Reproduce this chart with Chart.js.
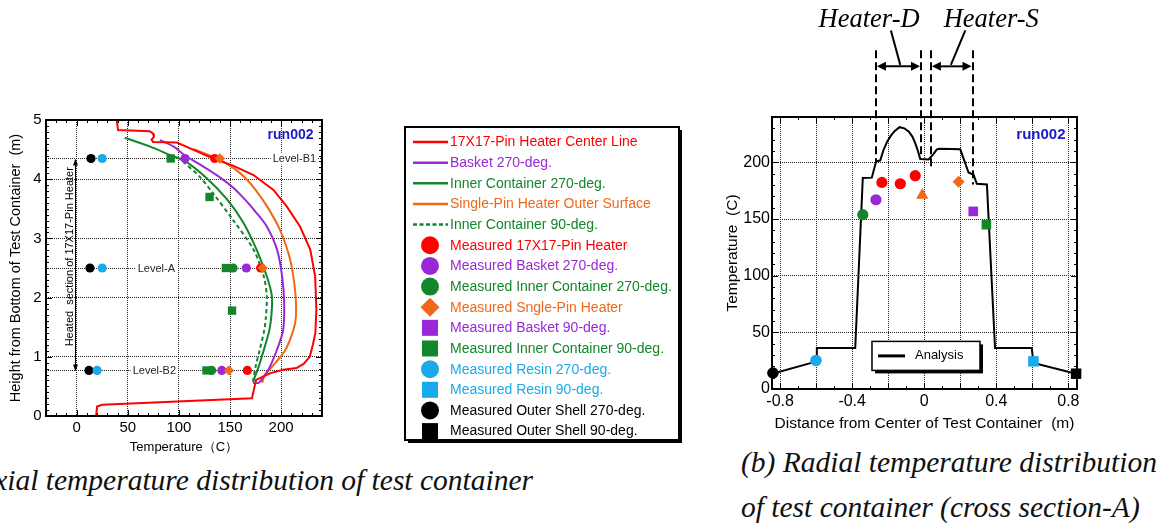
<!DOCTYPE html>
<html>
<head>
<meta charset="utf-8">
<script src="https://cdn.jsdelivr.net/npm/chart.js@4.4.1/dist/chart.umd.min.js"></script>
<style>
  html, body { margin: 0; padding: 0; background: #fff; width: 1163px; height: 527px; overflow: hidden; position: relative; }
  canvas { position: absolute; left: 0; top: 0; }
  #axialWrap { position: absolute; left: 0; top: 0; width: 700px; height: 460px; }
  #radialWrap { position: absolute; left: 700px; top: 0; width: 463px; height: 440px; }
  .cap { position: absolute; font-family: "Liberation Serif", "Times New Roman", serif; font-style: italic;
         font-size: 29.5px; line-height: 36px; color: #111; white-space: nowrap; }
  #capA { right: 630px; top: 462px; text-align: right; }
  #capB1 { left: 741px; top: 444px; }
  #capB2 { left: 741px; top: 489px; }
</style>
</head>
<body>
<div id="axialWrap"><canvas id="axial" width="700" height="460"></canvas></div>
<div id="radialWrap"><canvas id="radial" width="463" height="440"></canvas></div>
<div class="cap" id="capA">(a) Axial temperature distribution of test container</div>
<div class="cap" id="capB1">(b) Radial temperature distribution</div>
<div class="cap" id="capB2">of test container (cross section-A)</div>

<script>
// ---------------- Axial distribution: temperature (C) vs height (m) ----------------
const axialTempTicks = [0, 50, 100, 150, 200];
const axialHeightTicks = [0, 1, 2, 3, 4, 5];
const levelNames = ['Level-B1', 'Level-A', 'Level-B2'];
const levelHeights = [4.35, 2.5, 0.77];
const levelLabelTemp = [213, 78, 76];

// computed profiles
const pinLineT = [39, 40.5, 71.5, 74.8, 75.5, 73.2, 74.8, 98, 111, 127, 143, 153, 173, 192.5, 205.5, 218.5, 228.5, 233.3, 234.5, 233.5, 231, 228, 222, 215, 202, 189, 175.5, 171.5, 25, 20, 19];
const pinLineH = [5.02, 4.83, 4.81, 4.77, 4.71, 4.67, 4.63, 4.62, 4.52, 4.40, 4.29, 4.23, 4.07, 3.82, 3.54, 3.20, 2.81, 2.36, 1.79, 1.40, 1.20, 1.00, 0.88, 0.81, 0.78, 0.72, 0.61, 0.30, 0.19, 0.16, 0];
const basket270T = [81.5, 95, 106, 120.5, 137, 153, 165, 175, 186, 196, 201, 203, 202, 197, 189, 182, 178, 172.5];
const basket270H = [4.66, 4.55, 4.40, 4.25, 4.07, 3.86, 3.65, 3.45, 3.20, 2.81, 2.36, 1.90, 1.45, 1.17, 0.83, 0.64, 0.56, 0.56];
const inner270T = [47, 72, 91, 107.5, 127, 146.5, 163, 176, 186, 191, 190.5, 188.5, 183, 178, 172.5];
const inner270H = [4.70, 4.55, 4.41, 4.29, 4.02, 3.67, 3.27, 2.81, 2.36, 2.02, 1.70, 1.45, 1.11, 0.83, 0.58];
const singlePinT = [114, 130, 140, 147, 155, 165, 175, 187, 199, 209, 214, 214.5, 212, 204, 194, 183.5, 181.5];
const singlePinH = [4.51, 4.40, 4.33, 4.26, 4.17, 4.02, 3.82, 3.52, 3.14, 2.63, 2.07, 1.68, 1.45, 1.11, 0.89, 0.67, 0.56];
const inner90T = [104, 120.5, 133.5, 153, 173, 183, 186, 185, 183.5, 179, 175, 172.5];
const inner90H = [4.30, 4.04, 3.76, 3.31, 2.81, 2.36, 2.02, 1.65, 1.45, 1.11, 0.83, 0.58];

// measured values at Level-B1, Level-A, Level-B2
const pinMeasT = [135, 180, 167];
const basket270MeasT = [106, 166, 142];
const inner270MeasT = [153, 132];
const inner270MeasH = [2.5, 0.77];
const singlePinMeasT = [140, 182, 149];
const inner90MeasT = [92, 130, 146, 152, 127];
const inner90MeasH = [4.35, 3.7, 2.5, 1.78, 0.77];
const resin270MeasT = [25, 25, 20];
const shell270MeasT = [14, 13, 12];

// ---------------- Radial distribution at cross section-A ----------------
const radialGridR = [-0.8, -0.6, -0.4, -0.2, 0, 0.2, 0.4, 0.6, 0.8];
const radialTickText = ['-0.8', '', '-0.4', '', '0', '', '0.4', '', '0.8'];
const radialTempTicks = [0, 50, 100, 150, 200];
const analysisR = [-0.843, -0.596, -0.596, -0.383, -0.341, -0.291, -0.267, -0.244, -0.226, -0.205, -0.185, -0.165, -0.137, -0.11, -0.085, -0.065, -0.05, -0.035, -0.022, 0.024, 0.05, 0.07, 0.085, 0.2, 0.246, 0.274, 0.292, 0.348, 0.393, 0.597, 0.606, 0.843];
const analysisT = [13.5, 24.4, 36.2, 36.2, 186.2, 186.5, 200.8, 201.7, 211, 218.5, 223.5, 227.5, 231, 230, 227, 222.5, 217, 210, 203, 202.5, 207, 211.5, 212, 211.5, 191, 189, 181, 180.5, 36.2, 36.2, 23, 13.5];
const radPinR = [-0.235, -0.133, -0.05];
const radPinT = [182.3, 181.1, 188.2];
const radBasket270 = [-0.268, 167];
const radInner270 = [-0.341, 153.8];
const radSinglePinCenter = [-0.011, 171.1];
const radSinglePin = [0.191, 182.9];
const radBasket90 = [0.272, 156.7];
const radInner90 = [0.345, 145];
const radResin270 = [-0.601, 25.2];
const radResin90 = [0.606, 24.4];
const radShell270 = [-0.84, 14.1];
const radShell90 = [0.843, 13.5];

const heaterNames = ['Heater-D', 'Heater-S'];
const heaterSpanR = [[-0.268, -0.018], [0.037, 0.268]];
const heaterGuideLowT = [[200.5, 202.5], [196, 180.5]];
const heaterLabelR = [-0.306, 0.372];

// ---------------- styling ----------------
const FONT = '"Liberation Sans", Arial, Helvetica, sans-serif';
const SERIF = '"Liberation Serif", "Times New Roman", serif';
const RED = '#ff0000', PURPLE = '#9a28d6', GREEN = '#13862b', ORANGE = '#f06818', CYAN = '#1aa9ea', BLACK = '#000000', BLUE = '#1a1acd';
Chart.defaults.font.family = FONT;
Chart.defaults.color = '#000';

const pts = (xs, ys) => xs.map((x, i) => ({ x, y: ys[i] }));
const pt = p => [{ x: p[0], y: p[1] }];

function curve(label, xs, ys, color, dash, tension) {
  return { label, data: pts(xs, ys), showLine: true, borderColor: color, backgroundColor: color,
           borderWidth: 2, borderDash: dash, pointRadius: 0, tension, order: 3 };
}
function marks(label, data, color, style, radius, order) {
  return { label, data, showLine: false, pointStyle: style, pointRadius: radius, pointBorderWidth: 0,
           pointBackgroundColor: color, pointBorderColor: color, borderColor: color, backgroundColor: color,
           order, clip: false };
}

function drawMark(ctx, style, x, y, size, color) {
  ctx.fillStyle = color;
  ctx.beginPath();
  if (style === 'rect') ctx.rect(x - size, y - size, 2 * size, 2 * size);
  else if (style === 'rectRot') { ctx.moveTo(x, y - size); ctx.lineTo(x + size, y); ctx.lineTo(x, y + size); ctx.lineTo(x - size, y); ctx.closePath(); }
  else ctx.arc(x, y, size, 0, Math.PI * 2);
  ctx.fill();
}

function arrowHead(ctx, x, y, dx, dy, len, half) {
  ctx.beginPath();
  ctx.moveTo(x, y);
  ctx.lineTo(x - dx * len - dy * half, y - dy * len + dx * half);
  ctx.lineTo(x - dx * len + dy * half, y - dy * len - dx * half);
  ctx.closePath();
  ctx.fill();
}

// frame of the plot area with tick marks pointing inward on all four sides
function drawFrame(chart, o) {
  const ctx = chart.ctx, { left, right, top, bottom } = chart.chartArea;
  const xs = chart.scales.x, ys = chart.scales.y;
  const isMajor = (v, m) => Math.abs(v / m - Math.round(v / m)) < 1e-6;
  ctx.save();
  ctx.strokeStyle = '#000';
  ctx.lineWidth = 1;
  ctx.beginPath();
  for (let n = Math.ceil(xs.min / o.xStep - 1e-9); n <= Math.floor(xs.max / o.xStep + 1e-9); n++) {
    const v = n * o.xStep, px = Math.round(xs.getPixelForValue(v)) + 0.5, len = isMajor(v, o.xMajor) ? 6 : 3;
    ctx.moveTo(px, bottom); ctx.lineTo(px, bottom - len);
    ctx.moveTo(px, top); ctx.lineTo(px, top + len);
  }
  for (let n = Math.ceil(ys.min / o.yStep - 1e-9); n <= Math.floor(ys.max / o.yStep + 1e-9); n++) {
    const v = n * o.yStep, py = Math.round(ys.getPixelForValue(v)) + 0.5, len = isMajor(v, o.yMajor) ? 6 : 3;
    ctx.moveTo(left, py); ctx.lineTo(left + len, py);
    ctx.moveTo(right, py); ctx.lineTo(right - len, py);
  }
  ctx.stroke();
  ctx.lineWidth = 2;
  ctx.strokeRect(left, top, right - left, bottom - top);
  // run label
  ctx.fillStyle = BLUE;
  ctx.font = 'bold ' + o.runSize + 'px ' + FONT;
  ctx.textAlign = 'right';
  ctx.textBaseline = 'middle';
  ctx.fillText('run002', right - o.runInsetX, top + o.runInsetY);
  ctx.restore();
}

// ---------------- axial chart overlays ----------------
const axialOverlay = {
  id: 'axialOverlay',
  beforeDatasetsDraw(chart) {
    const ctx = chart.ctx, xs = chart.scales.x, ys = chart.scales.y, { left, right } = chart.chartArea;
    ctx.save();
    // measurement levels
    ctx.strokeStyle = '#222';
    ctx.lineWidth = 1;
    ctx.setLineDash([1, 1]);
    levelHeights.forEach(h => {
      const py = Math.round(ys.getPixelForValue(h)) + 0.5;
      ctx.beginPath(); ctx.moveTo(left, py); ctx.lineTo(right, py); ctx.stroke();
    });
    ctx.setLineDash([]);
    ctx.font = '11px ' + FONT;
    ctx.textAlign = 'center';
    ctx.textBaseline = 'middle';
    levelNames.forEach((name, i) => {
      const px = xs.getPixelForValue(levelLabelTemp[i]), py = ys.getPixelForValue(levelHeights[i]);
      const w = ctx.measureText(name).width + 4;
      ctx.fillStyle = '#fff';
      ctx.fillRect(px - w / 2, py - 6, w, 12);
      ctx.fillStyle = '#222';
      ctx.fillText(name, px, py + 0.5);
    });
    // heated section span
    const ax = Math.round(xs.getPixelForValue(-2)) + 0.5;
    const yTop = ys.getPixelForValue(levelHeights[0]), yBot = ys.getPixelForValue(0.75);
    ctx.strokeStyle = '#000';
    ctx.fillStyle = '#000';
    ctx.lineWidth = 1;
    ctx.beginPath(); ctx.moveTo(ax, yTop + 5); ctx.lineTo(ax, yBot - 5); ctx.stroke();
    arrowHead(ctx, ax, yTop, 0, -1, 7, 2.5);
    arrowHead(ctx, ax, yBot, 0, 1, 7, 2.5);
    ctx.save();
    ctx.translate(ax - 3, ys.getPixelForValue(2.69));
    ctx.rotate(-Math.PI / 2);
    ctx.font = '11px ' + FONT;
    ctx.textAlign = 'center';
    ctx.textBaseline = 'alphabetic';
    ctx.fillText('Heated  section of 17X17-Pin Heater', 0, 0);
    ctx.restore();
    ctx.restore();
  },
  afterDraw(chart) {
    drawFrame(chart, { xStep: 10, xMajor: 50, yStep: 0.1, yMajor: 1, runSize: 14, runInsetX: 8.5, runInsetY: 15 });
    // boxed key listing every series
    const ctx = chart.ctx, box = { left: 405, top: 127, width: 274, height: 313 };
    ctx.save();
    ctx.fillStyle = '#000';
    ctx.fillRect(box.left + 3, box.top + 3, box.width, box.height);
    ctx.fillStyle = '#fff';
    ctx.fillRect(box.left, box.top, box.width, box.height);
    ctx.strokeStyle = '#000';
    ctx.lineWidth = 2;
    ctx.strokeRect(box.left, box.top, box.width, box.height);
    ctx.font = '14px ' + FONT;
    ctx.textAlign = 'left';
    ctx.textBaseline = 'middle';
    const legendSize = { circle: 9, rect: 8, rectRot: 9.5 };
    chart.data.datasets.forEach((ds, i) => {
      const y = 142 + i * 20.65;
      if (ds.showLine) {
        ctx.strokeStyle = ds.borderColor;
        ctx.lineWidth = 2.5;
        ctx.setLineDash(ds.borderDash && ds.borderDash.length ? [4, 2.5] : []);
        ctx.beginPath(); ctx.moveTo(413, y); ctx.lineTo(448, y); ctx.stroke();
        ctx.setLineDash([]);
      } else {
        drawMark(ctx, ds.pointStyle, 430, y, legendSize[ds.pointStyle], ds.pointBackgroundColor);
      }
      ctx.fillStyle = ds.borderColor;
      ctx.fillText(ds.label, 450, y + 0.5);
    });
    ctx.restore();
  }
};

new Chart(document.getElementById('axial'), {
  type: 'scatter',
  data: {
    datasets: [
      curve('17X17-Pin Heater Center Line', pinLineT, pinLineH, RED, [], 0),
      curve('Basket 270-deg.', basket270T, basket270H, PURPLE, [], 0.3),
      curve('Inner Container 270-deg.', inner270T, inner270H, GREEN, [], 0.3),
      curve('Single-Pin Heater Outer Surface', singlePinT, singlePinH, ORANGE, [], 0.3),
      curve('Inner Container 90-deg.', inner90T, inner90H, GREEN, [4, 3], 0.3),
      marks('Measured 17X17-Pin Heater', pts(pinMeasT, levelHeights), RED, 'circle', 4.6, 2),
      marks('Measured Basket 270-deg.', pts(basket270MeasT, levelHeights), PURPLE, 'circle', 4.6, 2),
      marks('Measured Inner Container 270-deg.', pts(inner270MeasT, inner270MeasH), GREEN, 'circle', 4.6, 2),
      marks('Measured Sngle-Pin Heater', pts(singlePinMeasT, levelHeights), ORANGE, 'rectRot', 5.2, 1),
      marks('Measured Basket 90-deg.', [], PURPLE, 'rect', 5.9, 2),
      marks('Measured Inner Container 90-deg.', pts(inner90MeasT, inner90MeasH), GREEN, 'rect', 5.9, 2),
      marks('Measured Resin 270-deg.', pts(resin270MeasT, levelHeights), CYAN, 'circle', 4.6, 2),
      marks('Measured Resin 90-deg.', [], CYAN, 'rect', 5.9, 2),
      marks('Measured Outer Shell 270-deg.', pts(shell270MeasT, levelHeights), BLACK, 'circle', 4.6, 2),
      marks('Measured Outer Shell 90-deg.', [], BLACK, 'rect', 5.9, 2)
    ]
  },
  options: {
    responsive: false,
    devicePixelRatio: 1,
    animation: false,
    events: [],
    layout: { padding: { left: 0, top: 120, right: 378, bottom: 0 } },
    plugins: { legend: { display: false }, tooltip: { enabled: false } },
    scales: {
      x: {
        type: 'linear', min: -30, max: 240,
        afterBuildTicks: s => { s.ticks = axialTempTicks.map(v => ({ value: v })); },
        afterFit: s => { s.height = 44; },
        grid: { color: '#222', lineWidth: 1, drawTicks: false },
        border: { display: false, dash: [1, 1] },
        ticks: { padding: 3, font: { size: 15 }, color: '#000' },
        title: { display: true, text: 'Temperature（C）', font: { size: 13 }, color: '#000', padding: { top: 0, bottom: 5.2 } }
      },
      y: {
        type: 'linear', min: 0, max: 5,
        afterBuildTicks: s => { s.ticks = axialHeightTicks.map(v => ({ value: v })); },
        afterFit: s => { s.width = 46; },
        grid: { color: '#222', lineWidth: 1, drawTicks: false },
        border: { display: false, dash: [1, 1] },
        ticks: { padding: 4.5, font: { size: 15 }, color: '#000' },
        title: { display: true, text: 'Height from Bottom of Test Container  (m)', font: { size: 14.5 }, color: '#000', padding: { top: 6.8, bottom: 0 } }
      }
    }
  },
  plugins: [axialOverlay]
});

// ---------------- radial chart overlays ----------------
const radialOverlay = {
  id: 'radialOverlay',
  afterDraw(chart) {
    drawFrame(chart, { xStep: 0.1, xMajor: 0.2, yStep: 10, yMajor: 50, runSize: 15, runInsetX: 11.5, runInsetY: 18 });
    const ctx = chart.ctx, xs = chart.scales.x, ys = chart.scales.y;
    ctx.save();
    // heater extents
    ctx.strokeStyle = '#000';
    ctx.fillStyle = '#000';
    ctx.lineWidth = 2;
    const guideTop = ys.getPixelForValue(299);
    const arrowY = ys.getPixelForValue(284.7);
    heaterSpanR.forEach((span, k) => {
      ctx.setLineDash([8, 4]);
      span.forEach((r, j) => {
        const px = Math.round(xs.getPixelForValue(r));
        ctx.beginPath(); ctx.moveTo(px, guideTop); ctx.lineTo(px, ys.getPixelForValue(heaterGuideLowT[k][j])); ctx.stroke();
      });
      ctx.setLineDash([]);
      const x0 = xs.getPixelForValue(span[0]), x1 = xs.getPixelForValue(span[1]);
      ctx.beginPath(); ctx.moveTo(x0 + 6, arrowY); ctx.lineTo(x1 - 6, arrowY); ctx.stroke();
      arrowHead(ctx, x0 + 1, arrowY, -1, 0, 9, 4.5);
      arrowHead(ctx, x1 - 1, arrowY, 1, 0, 9, 4.5);
    });
    // leaders from arrows to names
    const leaders = [[-0.133, 286, -0.185, 316.4], [0.148, 286, 0.228, 316.4]];
    leaders.forEach(l => {
      ctx.beginPath();
      ctx.moveTo(xs.getPixelForValue(l[0]), ys.getPixelForValue(l[1]));
      ctx.lineTo(xs.getPixelForValue(l[2]), ys.getPixelForValue(l[3]));
      ctx.stroke();
    });
    ctx.font = 'italic 26.5px ' + SERIF;
    ctx.textAlign = 'center';
    ctx.textBaseline = 'middle';
    heaterNames.forEach((name, k) => {
      ctx.fillText(name, xs.getPixelForValue(heaterLabelR[k]), ys.getPixelForValue(326));
    });
    // key for the computed curve
    const kx = xs.getPixelForValue(-0.29), ky = ys.getPixelForValue(42), kw = 108, kh = 29;
    ctx.fillRect(kx + 3, ky + 3, kw, kh);
    ctx.fillStyle = '#fff';
    ctx.fillRect(kx, ky, kw, kh);
    ctx.lineWidth = 1.5;
    ctx.strokeRect(kx, ky, kw, kh);
    const ds = chart.data.datasets[0];
    ctx.strokeStyle = ds.borderColor;
    ctx.lineWidth = 3;
    ctx.beginPath(); ctx.moveTo(kx + 6, ky + kh / 2); ctx.lineTo(kx + 33, ky + kh / 2); ctx.stroke();
    ctx.fillStyle = '#000';
    ctx.font = '13px ' + FONT;
    ctx.textAlign = 'left';
    ctx.fillText(ds.label, kx + 43, ky + kh / 2);
    ctx.restore();
  }
};

new Chart(document.getElementById('radial'), {
  type: 'scatter',
  data: {
    datasets: [
      curve('Analysis', analysisR, analysisT, BLACK, [], 0),
      marks('Measured 17X17-Pin Heater', pts(radPinR, radPinT), RED, 'circle', 5.6, 1),
      marks('Measured Basket 270-deg.', pt(radBasket270), PURPLE, 'circle', 5.6, 1),
      marks('Measured Inner Container 270-deg.', pt(radInner270), GREEN, 'circle', 5.6, 1),
      marks('Measured Single-Pin Heater center', pt(radSinglePinCenter), ORANGE, 'triangle', 7.1, 1),
      marks('Measured Sngle-Pin Heater', pt(radSinglePin), ORANGE, 'rectRot', 6, 1),
      marks('Measured Basket 90-deg.', pt(radBasket90), PURPLE, 'rect', 6.8, 1),
      marks('Measured Inner Container 90-deg.', pt(radInner90), GREEN, 'rect', 6.8, 1),
      marks('Measured Resin 270-deg.', pt(radResin270), CYAN, 'circle', 5.8, 1),
      marks('Measured Resin 90-deg.', pt(radResin90), CYAN, 'rect', 7.4, 1),
      marks('Measured Outer Shell 270-deg.', pt(radShell270), BLACK, 'circle', 5.8, 1),
      marks('Measured Outer Shell 90-deg.', pt(radShell90), BLACK, 'rect', 7.4, 1)
    ]
  },
  options: {
    responsive: false,
    devicePixelRatio: 1,
    animation: false,
    events: [],
    layout: { padding: { left: 0, top: 117, right: 86, bottom: 0 } },
    plugins: { legend: { display: false }, tooltip: { enabled: false } },
    scales: {
      x: {
        type: 'linear', min: -0.845, max: 0.848,
        afterBuildTicks: s => { s.ticks = radialGridR.map(v => ({ value: v })); },
        afterFit: s => { s.height = 51; },
        grid: { color: '#222', lineWidth: 1, drawTicks: false },
        border: { display: false, dash: [1, 1] },
        ticks: { padding: 3, font: { size: 16 }, color: '#000', callback: (v, i) => radialTickText[i] },
        title: { display: true, text: 'Distance from Center of Test Container  (m)', font: { size: 15.5 }, color: '#000', padding: { top: 0, bottom: 7.4 } }
      },
      y: {
        type: 'linear', min: 0, max: 240,
        afterBuildTicks: s => { s.ticks = radialTempTicks.map(v => ({ value: v })); },
        afterFit: s => { s.width = 72; },
        grid: { color: '#222', lineWidth: 1, drawTicks: false },
        border: { display: false, dash: [1, 1] },
        ticks: { padding: 2, font: { size: 16 }, color: '#000' },
        title: { display: true, text: 'Temperature  (C)', font: { size: 15.5 }, color: '#000', padding: { top: 23.7, bottom: 0 } }
      }
    }
  },
  plugins: [radialOverlay]
});
</script>
</body>
</html>
